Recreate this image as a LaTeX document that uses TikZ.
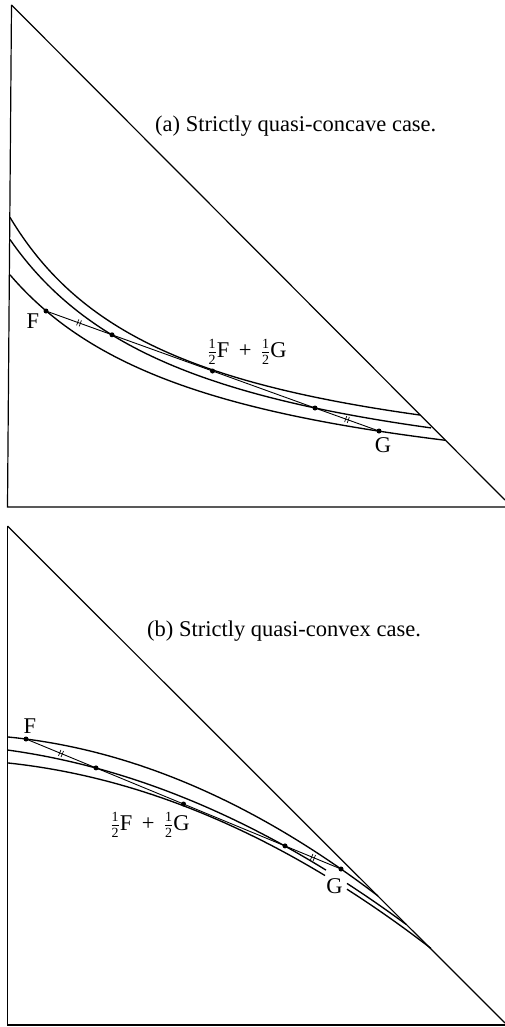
\documentclass[tikz,border=0pt]{standalone}
\usepackage{fontspec}
\setmainfont{Liberation Serif}
\usetikzlibrary{decorations.markings}
\newcommand\hf{$\frac{\mbox{\fontsize{14}{14}\selectfont 1}}{\mbox{\fontsize{14}{14}\selectfont 2}}$}
\begin{document}
\begin{tikzpicture}[x=1pt,y=-1pt,
  curve/.style={line width=1.35pt},
  axis/.style={line width=1.2pt},
  chord/.style={line width=0.9pt},
  pt/.style={circle,fill=black,inner sep=0pt,minimum size=5pt},
  lbl/.style={font=\fontsize{22.5}{26}\selectfont, inner sep=0pt},
  eqmark/.style={postaction={decorate},decoration={markings,mark=at position 0.5 with {\draw[line width=0.7pt] (-1.4,-3.2)--(-1.4,3.2) (1.4,-3.2)--(1.4,3.2);}}}
]
\useasboundingbox (0,0) rectangle (505,1027);

% ---------- panel (a) ----------
\coordinate (Ta) at (11.5,5);
\coordinate (Oa) at (7.5,507);
\coordinate (Ra) at (505,507);
\coordinate (Ha) at (505,500);
\draw[axis] (Ta) -- (Oa) -- (Ra);
\draw[axis] (Ta) -- (Ha);

\draw[curve] plot[domain=10:420,samples=90,smooth] (\x,{495.4-463.46/((\x+156.7)/100)});
\draw[curve] plot[domain=10:431,samples=90,smooth] (\x,{513.1-520.86/((\x+180.4)/100)});
\draw[curve] plot[domain=10:445,samples=90,smooth] (\x,{519.9-513.41/((\x+199.5)/100)});

\node[pt] (Fa) at (46,311) {};
\node[pt] (d1a) at (112,334.8) {};
\node[pt] (ma) at (212.5,371) {};
\node[pt] (d2a) at (315,408) {};
\node[pt] (Ga) at (379,431) {};
\draw[chord,eqmark] (Fa.center) -- (d1a.center);
\draw[chord] (d1a.center) -- (ma.center) -- (d2a.center);
\draw[chord,eqmark] (d2a.center) -- (Ga.center);

\node[lbl,anchor=base] (lFa) at (33,328) {F};
\node[lbl,anchor=base] (lMa) at (247,357) {\hf F\,\ +\,\ \hf G};
\node[lbl,anchor=base] (lGa) at (383,452) {G};
\node[lbl,anchor=base west] (capa) at (155,132) {(a) Strictly quasi-concave case.};

% ---------- panel (b) ----------
\coordinate (Tb) at (7.5,526);
\coordinate (Ob) at (7.5,1025);
\coordinate (Rb) at (505,1025);
\coordinate (Hb) at (505,1023);
\draw[axis] (Tb) -- (Ob) -- (Rb);
\draw[axis] (Tb) -- (Hb);

\draw[curve] plot[domain=8:378,samples=90,smooth] (\x,{734.4+9*((\x+45.7)/100)^2});
\draw[curve] plot[domain=8:326,samples=80,smooth] (\x,{743.8+7.54*((\x+83.3)/100)^2});
\draw[curve] plot[domain=347:406,samples=20,smooth] (\x,{743.8+7.54*((\x+83.3)/100)^2});
\draw[curve] plot[domain=8:325,samples=80,smooth] (\x,{759.4+7.86*((\x+59.4)/100)^2});
\draw[curve] plot[domain=347:431,samples=20,smooth] (\x,{759.4+7.86*((\x+59.4)/100)^2});

\node[pt] (Fb) at (26,739) {};
\node[pt] (d1b) at (96,767.9) {};
\node[pt] (mb) at (183.5,804) {};
\node[pt] (d2b) at (285,845.9) {};
\node[pt] (Gb) at (341,869) {};
\draw[chord,eqmark] (Fb.center) -- (d1b.center);
\draw[chord] (d1b.center) -- (mb.center) -- (d2b.center);
\draw[chord,eqmark] (d2b.center) -- (Gb.center);

\node[lbl,anchor=base] (lFb) at (30,733) {F};
\node[lbl,anchor=base] (lMb) at (150,830) {\hf F\,\ +\,\ \hf G};
\node[lbl,anchor=base] (lGb) at (334.5,893) {G};
\node[lbl,anchor=base west] (capb) at (147,636) {(b) Strictly quasi-convex case.};
\end{tikzpicture}
\end{document}
